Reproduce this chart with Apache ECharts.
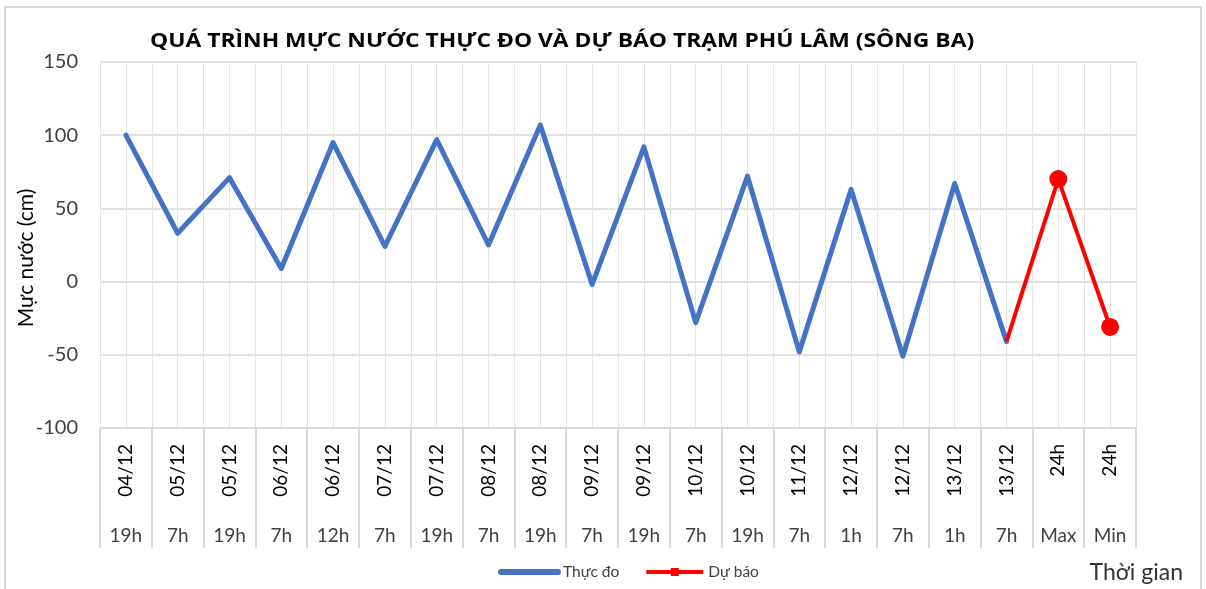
<!DOCTYPE html>
<html>
<head>
<meta charset="utf-8">
<script src="https://cdn.jsdelivr.net/npm/echarts@6/dist/echarts.min.js"></script>
<style>
html,body{margin:0;padding:0;background:#fff;}
#chart{width:1206px;height:589px;}
</style>
</head>
<body>
<div id="chart"></div>
<script>
// ---- data ----
const titleText = 'QUÁ TRÌNH MỰC NƯỚC THỰC ĐO VÀ DỰ BÁO TRẠM PHÚ LÂM (SÔNG BA)';
const dates = ['04/12','05/12','05/12','06/12','06/12','07/12','07/12','08/12','08/12','09/12','09/12','10/12','10/12','11/12','12/12','12/12','13/12','13/12','24h','24h'];
const hours = ['19h','7h','19h','7h','12h','7h','19h','7h','19h','7h','19h','7h','19h','7h','1h','7h','1h','7h','Max','Min'];
const observed = [100,33,71,9,95,24,97,25,107,-2,92,-28,72,-48,63,-51,67,-41,null,null];
const forecast = [null,null,null,null,null,null,null,null,null,null,null,null,null,null,null,null,null,-41,70,-31];
const yTicks = {min:-100, max:150, interval:50};
const seriesNames = ['Thực đo','Dự báo'];
const yName = 'Mực nước (cm)';
const xName = 'Thời gian';

const FONT = 'Lato, "Open Sans", "Liberation Sans", sans-serif';
const TFONT = '"Open Sans", Lato, sans-serif';
const idx = dates.map((d,i)=>String(i));
const halfIdx = [];
for (let i=0;i<dates.length*2;i++) halfIdx.push(String(i));

const chart = echarts.init(document.getElementById('chart'), null, {renderer:'canvas'});
const forecastData = forecast.map((v,i)=>{
  if (v === null) return null;
  if (i === 17) return {value:v, symbol:'none'};
  return {value:v, symbol:'circle', symbolSize:18};
});

chart.setOption({
  backgroundColor:'#fff',
  animation:false,
  legend:{
    left:493, top:559,
    itemWidth:57, itemHeight:10, itemGap:25,
    textStyle:{fontFamily:FONT, fontSize:15.5, color:'#404040'},
    data:[
      {name:seriesNames[0], itemStyle:{opacity:0}, lineStyle:{width:6, color:'#4472C4', cap:'round'}},
      {name:seriesNames[1], lineStyle:{width:4, color:'#FF0000'}}
    ]
  },
  grid:{left:100, right:70, top:62, bottom:161, containLabel:false},
  xAxis:[
    {
      type:'category', data:idx, position:'bottom', boundaryGap:true,
      axisLine:{show:true, onZero:false, lineStyle:{color:'#d9d9d9', width:1.5}},
      axisTick:{show:true, length:120, interval:0, lineStyle:{color:'#d9d9d9', width:2}},
      axisLabel:{interval:0, rotate:90, margin:16, fontFamily:FONT, fontSize:19, color:'#000',
        formatter:(v,i)=>dates[i]},
      splitLine:{show:true, interval:0, lineStyle:{color:'#d9d9d9', width:1}}
    },
    {
      type:'category', data:idx, position:'bottom', boundaryGap:true,
      axisLine:{show:false, onZero:false}, axisTick:{show:false},
      axisLabel:{interval:0, margin:98, fontFamily:FONT, fontSize:19, color:'#404040',
        formatter:(v,i)=>hours[i]},
      splitLine:{show:false}
    },
    {
      type:'category', data:halfIdx, position:'bottom', boundaryGap:true,
      axisLine:{show:false, onZero:false}, axisTick:{show:false}, axisLabel:{show:false},
      splitLine:{show:true, interval:0, lineStyle:{color:'#e3e3e3', width:1}}
    }
  ],
  yAxis:{
    type:'value', min:yTicks.min, max:yTicks.max, interval:yTicks.interval,
    axisLine:{show:false}, axisTick:{show:false},
    axisLabel:{margin:22, fontFamily:FONT, fontSize:20, color:'#404040'},
    splitLine:{show:true, lineStyle:{color:'#d9d9d9', width:1.5}}
  },
  graphic:[
    {type:'rect', shape:{x:5, y:7, width:1196, height:600}, style:{fill:'none', stroke:'#d9d9d9', lineWidth:2}, silent:true, z:-1},
    {type:'text', x:150, y:42, scaleX:1.217, scaleY:1,
      style:{text:titleText, fontFamily:TFONT, fontWeight:'bold', fontSize:18.8, fill:'#000', textAlign:'left', textVerticalAlign:'middle'}},
    {type:'text', x:26, y:258, rotation:Math.PI/2,
      style:{text:yName, fontFamily:FONT, fontSize:21, fill:'#000', textAlign:'center', textVerticalAlign:'middle'}},
    {type:'text', x:1183, y:573,
      style:{text:xName, fontFamily:FONT, fontSize:23, fill:'#333', textAlign:'right', textVerticalAlign:'middle'}}
  ],
  series:[
    {
      name:seriesNames[0], type:'line', xAxisIndex:0, data:observed,
      symbol:'none', connectNulls:false,
      lineStyle:{color:'#4472C4', width:5, join:'round', cap:'round'},
      itemStyle:{color:'#4472C4'}, z:2
    },
    {
      name:seriesNames[1], type:'line', xAxisIndex:0, data:forecastData,
      symbol:'rect', symbolSize:8,
      lineStyle:{color:'#FF0000', width:4, join:'round'},
      itemStyle:{color:'#FF0000'}, z:3
    }
  ]
});
</script>
</body>
</html>
